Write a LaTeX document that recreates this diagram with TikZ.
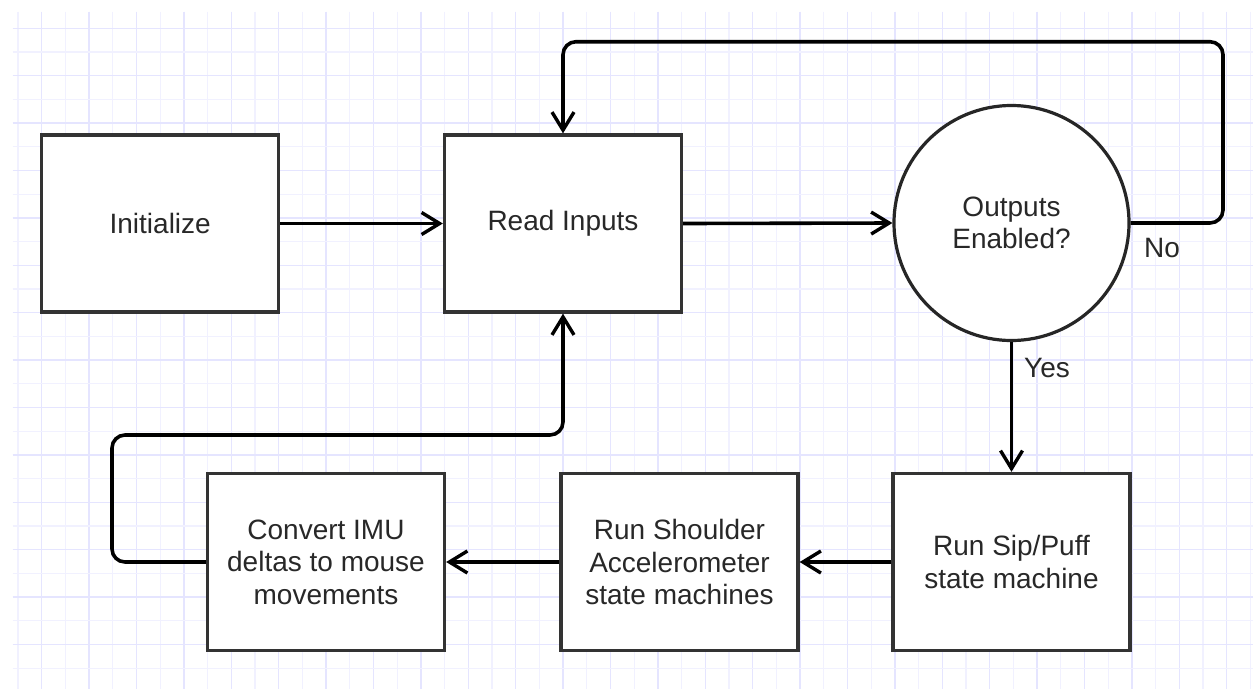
\documentclass[tikz,border=0pt]{standalone}
\usepackage{fontspec}
\setmainfont{Liberation Sans}
\usetikzlibrary{arrows.meta}

\definecolor{gridminor}{RGB}{241,241,255}
\definecolor{gridmajor}{RGB}{229,229,255}
\definecolor{boxline}{RGB}{51,51,51}
\definecolor{textcol}{RGB}{40,40,40}

\tikzset{
  stepbox/.style={draw=boxline, line width=3.3pt, fill=white, rectangle,
    minimum width=237pt, minimum height=177pt, inner sep=0pt,
    align=center, text=textcol, font=\fontsize{28}{32.5}\selectfont},
  decision/.style={draw=black!85, line width=3.2pt, fill=white, circle,
    minimum size=235pt, inner sep=0pt, align=center, text=textcol,
    font=\fontsize{28}{32.5}\selectfont},
  flow/.style={draw=black, line width=3.6pt,
    -{Straight Barb[length=18pt,width=22pt,line width=3.4pt]}},
  branch/.style={text=textcol, font=\fontsize{28}{32.5}\selectfont, inner sep=0pt},
}

\begin{document}
\begin{tikzpicture}[x=1pt,y=-1pt]
  \useasboundingbox (0,0) rectangle (1253,689);
  \fill[white] (0,0) rectangle (1253,689);

  % background grid: minor lines, with every second line stronger
  \foreach \k in {-1,...,51} {
    \pgfmathsetmacro{\gx}{41.7+23.7*\k}
    \pgfmathtruncatemacro{\gpar}{mod(\k+2,2)}
    \ifnum\gpar=0
      \draw[gridmajor, line width=1.5pt] (\gx,11.7) -- (\gx,689);
    \else
      \draw[gridminor, line width=1.1pt] (\gx,11.7) -- (\gx,689);
    \fi
  }
  \foreach \k in {0,...,28} {
    \pgfmathsetmacro{\gy}{28.3+23.7*\k}
    \pgfmathtruncatemacro{\gpar}{mod(\k,2)}
    \ifnum\gpar=0
      \draw[gridmajor, line width=1.5pt] (12.7,\gy) -- (1253,\gy);
    \else
      \draw[gridminor, line width=1.1pt] (12.7,\gy) -- (1253,\gy);
    \fi
  }

  % process steps
  \node[stepbox] (init) at (160.2,223.5) {Initialize};
  \node[stepbox] (read) at (563,223.5) {Read Inputs};
  \node[decision] (dec) at (1011.5,223) {Outputs\\Enabled?};
  \node[stepbox] (sip) at (1011.5,562) {Run Sip/Puff\\state machine};
  \node[stepbox] (shoulder) at (679.5,562) {Run Shoulder\\Accelerometer\\state machines};
  \node[stepbox] (convert) at (326,562) {Convert IMU\\deltas to mouse\\movements};

  % loop corners
  \coordinate (noturn) at (1223,41.7);
  \coordinate (backturn) at (112,435);

  % connectors
  \draw[flow] (init.east) -- (read.west);
  \draw[flow] (read.east) -- (dec.west);
  \draw[flow, rounded corners=13pt] (dec.east) -| (noturn) -- (read.north |- noturn) -- (read.north);
  \draw[flow] (dec.south) -- (sip.north);
  \draw[flow] (sip.west) -- (shoulder.east);
  \draw[flow] (shoulder.west) -- (convert.east);
  \draw[flow, rounded corners=13pt] (convert.west) -| (backturn) -- (read.south |- backturn) -- (read.south);

  % branch labels
  \node[branch] (nolabel) at (1162,248) {No};
  \node[branch] (yeslabel) at (1047,368) {Yes};
\end{tikzpicture}
\end{document}
